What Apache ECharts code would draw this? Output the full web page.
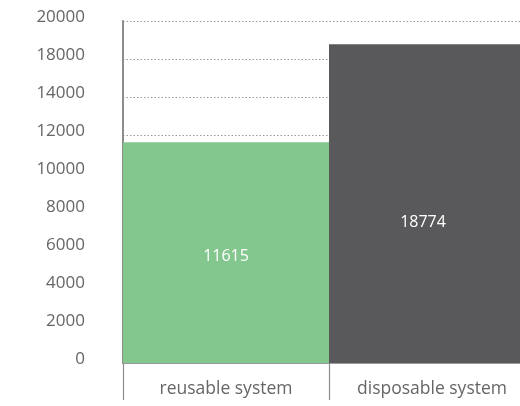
<!DOCTYPE html>
<html>
<head>
<meta charset="utf-8">
<script src="https://cdn.jsdelivr.net/npm/echarts@6/dist/echarts.min.js"></script>
<style>
  html, body { margin: 0; padding: 0; background: #fff; }
  #chart { width: 520px; height: 406px; }
</style>
</head>
<body>
<div id="chart"></div>
<script>
// Systems compared and their totals
const categories = ['reusable system', 'disposable system'];
const totals = [11615, 18774];
const barColors = ['#83c78e', '#59595b'];

// Tick labels of the value axis, evenly spaced along it
const tickLabels = [0, 2000, 4000, 6000, 8000, 10000, 12000, 14000, 18000, 20000];

// Place a value on the evenly spaced tick scale (linear between neighbouring ticks)
function tickPosition(v) {
  for (let i = 0; i < tickLabels.length - 1; i++) {
    const a = tickLabels[i], b = tickLabels[i + 1];
    if (v <= b) return i + (v - a) / (b - a);
  }
  return tickLabels.length - 1;
}

const labelOffsets = [[0, 4], [-9, 19]];
const font = '"Open Sans", "Noto Sans", sans-serif';

const chart = echarts.init(document.getElementById('chart'), null, { renderer: 'canvas' });
chart.setOption({
  animation: false,
  // plot area runs past the right edge of the canvas
  grid: { left: 123, right: -15, top: 21, bottom: 43, containLabel: false, outerBoundsMode: 'none' },
  xAxis: {
    type: 'category',
    data: categories,
    boundaryGap: true,
    axisLine: { show: true, lineStyle: { color: '#9a9a9a', width: 1 } },
    axisTick: { show: true, alignWithLabel: false, inside: false, length: 37,
                lineStyle: { color: '#8c8c8c', width: 1.2 } },
    axisLabel: { color: '#666', fontSize: 17.5, fontFamily: font, margin: 17, interval: 0, hideOverlap: false }
  },
  yAxis: {
    type: 'value',
    min: 0,
    max: tickLabels.length - 1,
    interval: 1,
    axisLine: { show: true, lineStyle: { color: '#8c8c8c', width: 2 } },
    axisTick: { show: false },
    splitLine: { show: true, lineStyle: { color: '#9a9a9a', type: [1.5, 2], width: 1.2 } },
    axisLabel: {
      color: '#666', fontSize: 17, fontFamily: font, margin: 38,
      verticalAlign: 'bottom', lineHeight: 8,
      formatter: v => String(tickLabels[Math.round(v)])
    }
  },
  series: [{
    type: 'bar',
    barCategoryGap: '0%',
    data: totals.map((v, i) => ({
      value: tickPosition(v),
      itemStyle: { color: barColors[i] },
      label: { offset: labelOffsets[i] }
    })),
    label: {
      show: true,
      position: 'inside',
      color: '#fff',
      fontSize: 16,
      fontFamily: font,
      formatter: p => String(totals[p.dataIndex])
    }
  }]
});
</script>
</body>
</html>
